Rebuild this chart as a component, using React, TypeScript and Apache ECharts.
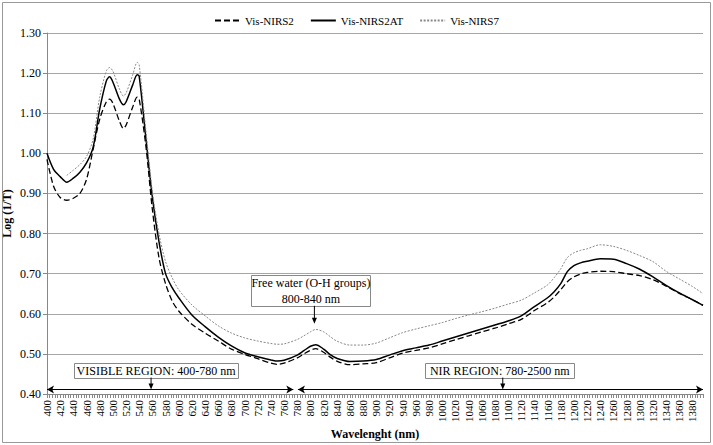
import React, { useEffect, useRef } from "react";
import * as echarts from "echarts";

const wavelengths = [
  400, 410, 420, 430, 440, 450, 460, 470, 480, 490, 495, 500, 510, 516, 520, 530, 537, 540, 550, 560,
  570, 580, 590, 600, 620, 640, 660, 680, 700, 720, 740, 750, 760, 780, 790, 800, 808, 820, 830, 840,
  860, 880, 900, 920, 940, 960, 980, 1000, 1020, 1040, 1060, 1080, 1100, 1120, 1140, 1160, 1170, 1180,
  1190, 1200, 1210, 1220, 1240, 1260, 1280, 1300, 1320, 1340, 1360, 1380, 1396,
];

const visNirs2 = [
  0.985, 0.918, 0.89, 0.883, 0.888, 0.9, 0.935, 1.01, 1.085, 1.128, 1.135, 1.125, 1.08, 1.062, 1.07, 1.115, 1.14, 1.135, 1.02, 0.86,
  0.74, 0.675, 0.632, 0.607, 0.574, 0.552, 0.532, 0.512, 0.499, 0.488, 0.477, 0.474, 0.477, 0.49, 0.5, 0.509, 0.513, 0.504, 0.492, 0.482,
  0.473, 0.475, 0.478, 0.49, 0.502, 0.509, 0.515, 0.525, 0.535, 0.545, 0.555, 0.564, 0.575, 0.586, 0.608, 0.628, 0.642, 0.66,
  0.68, 0.692, 0.699, 0.703, 0.706, 0.705, 0.7, 0.695, 0.685, 0.669, 0.651, 0.635, 0.621,
];

const visNirs2AT = [
  1.0, 0.96, 0.942, 0.928, 0.938, 0.953, 0.976, 1.015, 1.11, 1.18, 1.191, 1.178, 1.135, 1.121, 1.128, 1.17, 1.196, 1.192, 1.04, 0.89,
  0.78, 0.7, 0.665, 0.64, 0.597, 0.568, 0.542, 0.52, 0.503, 0.493, 0.485, 0.482, 0.484, 0.497, 0.508, 0.519, 0.523, 0.512, 0.498, 0.489,
  0.481, 0.482, 0.486, 0.497, 0.508, 0.515, 0.522, 0.532, 0.542, 0.552, 0.562, 0.572, 0.582, 0.595, 0.618, 0.64, 0.655, 0.675,
  0.705, 0.72, 0.727, 0.731, 0.737, 0.736, 0.725, 0.711, 0.692, 0.671, 0.652, 0.635, 0.621,
];

const visNirs7 = [
  null, null, null, 0.945, 0.958, 0.972, 0.992, 1.035, 1.14, 1.205, 1.214, 1.205, 1.16, 1.143, 1.15, 1.195, 1.227, 1.22, 1.06, 0.905,
  0.8, 0.73, 0.69, 0.66, 0.622, 0.595, 0.57, 0.552, 0.54, 0.532, 0.526, 0.524, 0.525, 0.536, 0.545, 0.555, 0.561, 0.555, 0.543, 0.532,
  0.522, 0.522, 0.527, 0.54, 0.553, 0.562, 0.57, 0.578, 0.588, 0.597, 0.605, 0.614, 0.624, 0.634, 0.652, 0.672, 0.69, 0.712,
  0.74, 0.752, 0.758, 0.762, 0.772, 0.768, 0.758, 0.745, 0.73, 0.706, 0.687, 0.668, 0.65,
];

const seriesNames = ["Vis-NIRS2", "Vis-NIRS2AT", "Vis-NIRS7"];

// region arrows [from nm, to nm] drawn just above the x axis
const regionArrows = [
  [400, 774],
  [781, 1396],
];
const regionArrowLevel = 0.411;

const annotations = [
  { lines: ["VISIBLE REGION: 400-780 nm"], at: [558, 0.411], dx: 5, w: 164, h: 15, gap: 12 },
  { lines: ["NIR REGION: 780-2500 nm"], at: [1092, 0.411], dx: -3, w: 149, h: 15, gap: 12 },
  { lines: ["Free water (O-H groups)", "800-840 nm"], at: [806, 0.575], dx: -3.5, w: 119, h: 31, gap: 18 },
];

const SERIF = '"Liberation Serif", "Times New Roman", serif';

export default function App() {
  const ref = useRef<HTMLDivElement>(null);

  useEffect(() => {
    document.body.style.margin = "0";
    const chart = echarts.init(ref.current!, null, { renderer: "svg" });

    const pairs = (vals: (number | null)[]) =>
      wavelengths.map((w, i) => [w, vals[i]]).filter((p) => p[1] !== null);

    const option: any = {
      animation: false,
      backgroundColor: "#fff",
      textStyle: { fontFamily: SERIF },
      legend: {
        top: 10,
        left: "center",
        itemWidth: 25,
        itemHeight: 10,
        itemGap: 16,
        itemStyle: { color: "transparent", borderColor: "transparent", borderWidth: 0, opacity: 0 },
        textStyle: { fontFamily: SERIF, fontSize: 11, color: "#000" },
        data: seriesNames,
      },
      grid: { left: 47, right: 10, top: 33, bottom: 51, containLabel: false, outerBoundsMode: "none" },
      xAxis: {
        type: "value",
        min: 400,
        max: 1396,
        interval: 20,
        name: "Wavelenght (nm)",
        nameLocation: "middle",
        nameGap: 34,
        nameMoveOverlap: false,
        nameTextStyle: { fontFamily: SERIF, fontWeight: "bold", fontSize: 12, color: "#000" },
        axisLine: { lineStyle: { color: "#888" } },
        axisTick: { show: true, length: 4, lineStyle: { color: "#888" } },
        minorTick: { show: true, splitNumber: 5, length: 4, lineStyle: { color: "#888" } },
        axisLabel: {
          rotate: 90,
          fontFamily: SERIF,
          fontSize: 11,
          color: "#000",
          margin: 6,
          showMaxLabel: false,
          formatter: (v: number) => String(v),
        },
        splitLine: { show: false },
      },
      yAxis: {
        type: "value",
        min: 0.4,
        max: 1.3,
        interval: 0.1,
        name: "Log (1/T)",
        nameLocation: "middle",
        nameGap: 34,
        nameMoveOverlap: false,
        nameTextStyle: { fontFamily: SERIF, fontWeight: "bold", fontSize: 12, color: "#000" },
        axisLine: { show: true, lineStyle: { color: "#888" } },
        axisTick: { show: true, length: 4, lineStyle: { color: "#888" } },
        axisLabel: {
          formatter: (v: number) => v.toFixed(2),
          fontFamily: SERIF,
          fontSize: 12,
          color: "#000",
          margin: 6,
        },
        splitLine: { lineStyle: { color: "#a6a6a6", width: 1 } },
      },
      series: [
        {
          name: seriesNames[0],
          type: "line",
          data: pairs(visNirs2),
          showSymbol: false,
          symbol: "none",
          smooth: 0.3,
          color: "#000",
          lineStyle: { color: "#000", width: 1.3, type: [6, 3] },
          markLine: {
            silent: true,
            symbol: ["arrow", "arrow"],
            symbolSize: [6, 7],
            label: { show: false },
            lineStyle: { color: "#000", type: "solid", width: 1 },
            data: regionArrows.map(([a, b]) => [
              { coord: [a, regionArrowLevel] },
              { coord: [b, regionArrowLevel] },
            ]),
          },
        },
        {
          name: seriesNames[1],
          type: "line",
          data: pairs(visNirs2AT),
          showSymbol: false,
          symbol: "none",
          smooth: 0.3,
          color: "#000",
          lineStyle: { color: "#000", width: 1.5, type: "solid" },
        },
        {
          name: seriesNames[2],
          type: "line",
          data: pairs(visNirs7),
          showSymbol: false,
          symbol: "none",
          smooth: 0.3,
          color: "#888",
          lineStyle: { color: "#888", width: 1, type: [2, 1.5] },
        },
      ],
    };

    chart.setOption(option);

    const graphics: any[] = [
      {
        type: "rect",
        shape: { x: 2.5, y: 2.5, width: 708, height: 440 },
        style: { fill: "none", stroke: "#999", lineWidth: 1 },
        silent: true,
        z: 0,
      },
    ];

    annotations.forEach((a) => {
      const tip = chart.convertToPixel({ gridIndex: 0 }, a.at) as number[];
      const bottom = tip[1] - a.gap;
      const top = bottom - a.h;
      const cx = tip[0] + a.dx;
      graphics.push({
        type: "rect",
        shape: { x: Math.round(cx - a.w / 2) + 0.5, y: Math.round(top) + 0.5, width: a.w, height: a.h },
        style: { fill: "#fff", stroke: "#888", lineWidth: 1 },
        z: 10,
      });
      const lh = a.h / a.lines.length;
      a.lines.forEach((t, i) => {
        graphics.push({
          type: "text",
          x: cx,
          y: top + lh * (i + 0.5) + 0.5,
          style: {
            text: t,
            fontFamily: SERIF,
            fontSize: 12,
            fill: "#000",
            textAlign: "center",
            textVerticalAlign: "middle",
          },
          z: 11,
        });
      });
      graphics.push({
        type: "line",
        shape: { x1: tip[0], y1: bottom, x2: tip[0], y2: tip[1] - 5 },
        style: { stroke: "#000", lineWidth: 1 },
        z: 10,
      });
      graphics.push({
        type: "polygon",
        shape: {
          points: [
            [tip[0] - 2.5, tip[1] - 6],
            [tip[0] + 2.5, tip[1] - 6],
            [tip[0], tip[1]],
          ],
        },
        style: { fill: "#000" },
        z: 10,
      });
    });

    chart.setOption({ graphic: graphics });

    return () => chart.dispose();
  }, []);

  return <div ref={ref} style={{ width: 713, height: 445 }} />;
}
